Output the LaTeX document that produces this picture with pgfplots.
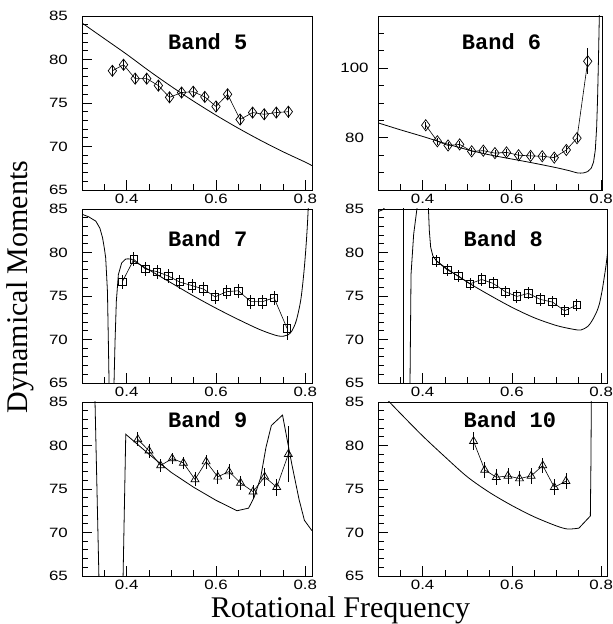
\documentclass[border=0pt]{standalone}
\usepackage{fontspec}
\setmainfont{Liberation Serif}
\newfontfamily\tickfont[FakeStretch=1.25]{Liberation Sans}
\newfontfamily\bandfont{Liberation Mono}
\usepackage{pgfplots}
\pgfplotsset{compat=1.18}

\pgfplotsset{
  band/.style={
    scale only axis, width=230pt, height=174pt,
    xmin=0.3, xmax=0.815, ymin=65, ymax=85,
    xtick={0.4,0.6,0.8}, minor xtick={0.35,0.45,0.5,0.55,0.65,0.7,0.75},
    ytick={65,70,75,80,85}, minor ytick={66,...,84},
    tick align=inside, xtick pos=left, ytick pos=left,
    major tick length=10pt, minor tick length=6pt,
    axis line style={line width=0.9pt},
    every tick/.style={black, line width=0.8pt},
    /pgf/number format/assume math mode=true,
    tick label style={font=\tickfont\fontsize{13.5}{14}\selectfont, inner sep=0pt},
    xticklabel style={anchor=north, yshift=-4pt},
    yticklabel style={anchor=center, xshift=-23.5pt},
  },
  theory/.style={black, line width=0.8pt, mark=none},
  data/.style={black, line width=0.6pt, mark options={solid, line width=0.7pt},
    error bars/.cd, y dir=both, y explicit, error mark=none,
    error bar style={line width=0.7pt}},
}
\tikzset{bandlabel/.style={anchor=base west, font=\bandfont\bfseries\fontsize{22}{22}\selectfont}}

\begin{document}
\begin{tikzpicture}
\useasboundingbox (0,0) rectangle (613pt,624pt);

% Band 5
\begin{axis}[band, at={(82pt,434pt)}, anchor=south west]
\addplot[theory, smooth] coordinates {
  (0.30,84.2) (0.35,82.4) (0.40,80.6) (0.45,78.7) (0.50,76.9) (0.55,75.2)
  (0.60,73.6) (0.65,72.1) (0.70,70.7) (0.75,69.4) (0.80,68.2) (0.815,67.8)
};
\addplot[mark=diamond, mark size=5.6pt, data] coordinates {
  (0.368,78.7) +- (0,0.6) (0.393,79.4) +- (0,0.6) (0.419,77.8) +- (0,0.6)
  (0.445,77.8) +- (0,0.6) (0.471,77.0) +- (0,0.6) (0.496,75.65) +- (0,0.6)
  (0.523,76.2) +- (0,0.6) (0.549,76.3) +- (0,0.6) (0.575,75.7) +- (0,0.6)
  (0.600,74.6) +- (0,0.6) (0.626,76.0) +- (0,0.6) (0.654,73.1) +- (0,0.6)
  (0.682,73.9) +- (0,0.6) (0.708,73.7) +- (0,0.6) (0.735,73.9) +- (0,0.6)
  (0.762,74.0) +- (0,0.7)
};
\node[bandlabel] at (rel axis cs:0.359,0.805) {Band 5};
\end{axis}

% Band 6
\begin{axis}[band, at={(378pt,434pt)}, anchor=south west, width=224pt,
  xmax=0.802, ymin=65, ymax=115, ytick={80,100},
  minor ytick={70,75,85,90,95,105,110}]
\addplot[theory, smooth] coordinates {
  (0.30,84.3) (0.35,82.3) (0.40,80.4) (0.45,78.4) (0.50,76.6) (0.55,75.1)
  (0.60,73.9) (0.65,72.7) (0.70,71.4) (0.73,70.5) (0.747,69.9) (0.760,69.9)
  (0.770,70.3)
};
\addplot[theory] coordinates {
  (0.770,70.3) (0.778,71.3) (0.783,73.0) (0.787,76.5) (0.790,83) (0.792,91)
  (0.794,102) (0.796,115) (0.797,120)
};
\addplot[mark=diamond, mark size=5.6pt, data] coordinates {
  (0.407,83.6) +- (0,1.0) (0.433,79.0) +- (0,1.0) (0.457,77.8) +- (0,1.0)
  (0.483,78.1) +- (0,1.0) (0.510,76.1) +- (0,1.0) (0.536,76.3) +- (0,1.0)
  (0.562,75.6) +- (0,1.0) (0.588,75.8) +- (0,1.0) (0.615,75.0) +- (0,1.0)
  (0.642,74.8) +- (0,1.0) (0.668,74.7) +- (0,1.0) (0.695,74.3) +- (0,1.0)
  (0.722,76.5) +- (0,1.0) (0.746,79.9) +- (0,1.2) (0.770,102.0) +- (0,3.7)
};
\node[bandlabel] at (rel axis cs:0.359,0.805) {Band 6};
\end{axis}

% Band 7
\begin{axis}[band, at={(82pt,241pt)}, anchor=south west]
\addplot[theory] coordinates {
  (0.300,84.4) (0.315,84.1) (0.331,83.6) (0.340,82.8) (0.346,81.7) (0.350,80.5)
  (0.353,79.4) (0.355,77.5) (0.357,75.5) (0.359,69.8) (0.3606,65) (0.362,55)
  (0.370,55) (0.3717,65) (0.3740,69.8) (0.3769,74.4) (0.3814,77.45) (0.3888,78.8)
  (0.3978,79.25)
};
\addplot[theory, smooth] coordinates {
  (0.3978,79.25) (0.410,79.25) (0.420,78.9) (0.45,78.0) (0.50,76.5) (0.55,75.0)
  (0.60,73.6) (0.65,72.3) (0.70,71.1) (0.74,70.4) (0.760,70.5) (0.770,71.0)
  (0.780,72.2) (0.790,74.6) (0.797,77.8) (0.802,81) (0.806,84.5) (0.810,90)
};
\addplot[mark=square, mark size=3.7pt, data] coordinates {
  (0.390,76.6) +- (0,0.8) (0.416,79.2) +- (0,0.8) (0.442,78.1) +- (0,0.8)
  (0.468,77.8) +- (0,0.8) (0.493,77.3) +- (0,0.8) (0.519,76.6) +- (0,0.8)
  (0.546,76.2) +- (0,0.8) (0.572,75.8) +- (0,0.8) (0.598,74.9) +- (0,0.8)
  (0.624,75.5) +- (0,0.8) (0.650,75.6) +- (0,0.8) (0.678,74.35) +- (0,0.8)
  (0.704,74.35) +- (0,0.8) (0.730,74.8) +- (0,0.8) (0.759,71.3) +- (0,1.35)
};
\node[bandlabel] at (rel axis cs:0.359,0.782) {Band 7};
\end{axis}

% Band 8
\begin{axis}[band, at={(378pt,241pt)}, anchor=south west, width=229pt, xmax=0.813]
\addplot[theory] coordinates {
  (0.300,84.7) (0.310,84.9) (0.320,85.4) (0.330,86.8) (0.345,92) (0.3565,130)
  (0.3575,40) (0.371,40) (0.3717,65) (0.3740,77.5) (0.3799,82.1) (0.3874,85.1)
  (0.395,90) (0.405,100) (0.411,90) (0.413,85) (0.415,82.5) (0.418,80.6)
  (0.423,79.6) (0.430,79.1)
};
\addplot[theory, smooth] coordinates {
  (0.430,79.1) (0.45,78.3) (0.50,76.6) (0.55,75.1) (0.60,73.7)
  (0.65,72.5) (0.70,71.6) (0.74,71.15) (0.755,71.1) (0.77,71.5) (0.78,72.2)
  (0.79,73.2) (0.796,74.1) (0.802,75.6) (0.807,77.2) (0.811,78.6) (0.815,80.3)
};
\addplot[mark=square, mark size=3.7pt, data] coordinates {
  (0.430,79.06) +- (0,0.7) (0.455,78.0) +- (0,0.7) (0.480,77.3) +- (0,0.7)
  (0.506,76.4) +- (0,0.7) (0.532,76.9) +- (0,0.7) (0.558,76.45) +- (0,0.7)
  (0.585,75.5) +- (0,0.7) (0.611,74.95) +- (0,0.7) (0.637,75.3) +- (0,0.7)
  (0.664,74.6) +- (0,0.7) (0.691,74.3) +- (0,0.7) (0.718,73.3) +- (0,0.7)
  (0.745,73.95) +- (0,0.7)
};
\node[bandlabel] at (rel axis cs:0.359,0.782) {Band 8};
\end{axis}

% Band 9
\begin{axis}[band, at={(82pt,48pt)}, anchor=south west]
\addplot[theory] coordinates {
  (0.327,90) (0.340,60) (0.3915,60) (0.392,65) (0.398,81.3) (0.40,81.2)
  (0.45,79.0) (0.476,77.9) (0.50,76.9) (0.55,75.2) (0.60,73.7) (0.647,72.5)
  (0.673,72.8) (0.685,74.0) (0.700,76.3) (0.712,79.8) (0.724,82.3) (0.749,83.5)
  (0.760,80.5) (0.770,77.8) (0.786,73.8) (0.798,71.4) (0.815,70.2)
};
\addplot[mark=triangle, mark size=4.6pt, data] coordinates {
  (0.425,80.7) +- (0,0.8) (0.450,79.4) +- (0,0.8) (0.476,77.7) +- (0,0.8)
  (0.502,78.5) +- (0,0.6) (0.527,78.0) +- (0,0.7) (0.553,76.1) +- (0,0.8)
  (0.578,78.15) +- (0,0.8) (0.604,76.4) +- (0,0.8) (0.629,77.0) +- (0,0.9)
  (0.655,75.7) +- (0,0.8) (0.683,74.7) +- (0,0.8) (0.709,76.4) +- (0,1.0)
  (0.736,75.2) +- (0,1.0) (0.762,79.0) +- (0,3.2)
};
\node[bandlabel] at (rel axis cs:0.359,0.851) {Band 9};
\end{axis}

% Band 10
\begin{axis}[band, at={(378pt,48pt)}, anchor=south west, width=229pt, xmax=0.813]
\addplot[theory, smooth] coordinates {
  (0.32,85.3) (0.35,83.7) (0.40,81.1) (0.45,78.7) (0.50,76.4) (0.55,74.6)
  (0.60,73.1) (0.65,71.8) (0.70,70.75) (0.725,70.4) (0.75,70.5)
};
\addplot[theory] coordinates {
  (0.75,70.5) (0.7757,71.9) (0.777,78) (0.778,86) (0.779,95)
};
\addplot[mark=triangle, mark size=4.6pt, data] coordinates {
  (0.514,80.5) +- (0,1.0) (0.539,77.2) +- (0,0.9) (0.565,76.35) +- (0,0.9)
  (0.591,76.5) +- (0,0.9) (0.617,76.2) +- (0,0.9) (0.643,76.5) +- (0,0.9)
  (0.669,77.7) +- (0,0.9) (0.695,75.2) +- (0,0.9) (0.721,75.9) +- (0,0.9)
};
\node[bandlabel] at (rel axis cs:0.359,0.851) {Band 10};
\end{axis}

\node[rotate=90, anchor=base, font=\fontsize{30}{30}\selectfont] at (27pt,337pt) {Dynamical Moments};
\node[anchor=base, font=\fontsize{30}{30}\selectfont] at (340.5pt,6pt) {Rotational Frequency};
\end{tikzpicture}
\end{document}
